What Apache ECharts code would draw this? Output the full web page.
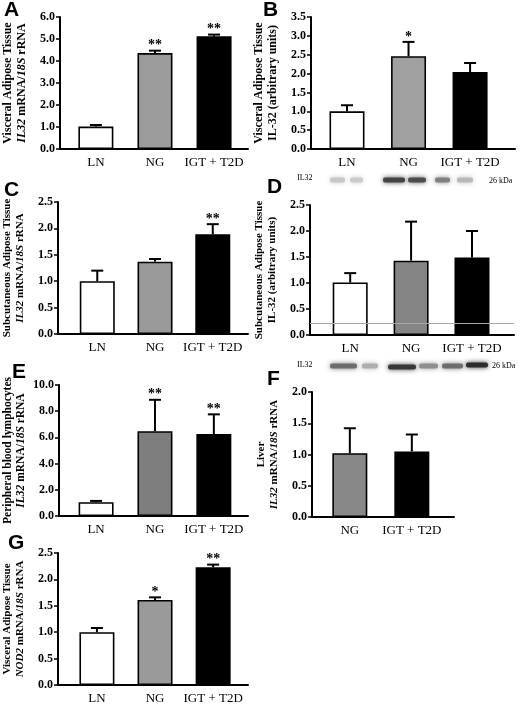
<!DOCTYPE html>
<html>
<head>
<meta charset="utf-8">
<script src="https://cdn.jsdelivr.net/npm/echarts@6/dist/echarts.min.js"></script>
<style>
html, body { margin: 0; padding: 0; background: #fff; }
#main { width: 520px; height: 706px; }
</style>
</head>
<body>
<div id="main"></div>
<script>
// groups
var groups3 = ['LN', 'NG', 'IGT + T2D'];
var groups2 = ['NG', 'IGT + T2D'];

// A - visceral adipose IL32 mRNA
var aMean = [1.02, 4.36, 5.12];
var aSem = [0.07, 0.11, 0.08];
var aSig = ['', '**', '**'];
// B - visceral adipose IL-32 protein
var bMean = [1.0, 2.46, 2.04];
var bSem = [0.16, 0.38, 0.24];
var bSig = ['', '*', ''];
// C - subcutaneous adipose IL32 mRNA
var cMean = [1.0, 1.37, 1.89];
var cSem = [0.2, 0.05, 0.19];
var cSig = ['', '', '**'];
// D - subcutaneous adipose IL-32 protein
var dMean = [1.01, 1.43, 1.49];
var dSem = [0.18, 0.75, 0.51];
var dSig = ['', '', ''];
var dGuide = 0.22;   // faint grey line across panel D
// E - peripheral blood lymphocytes IL32 mRNA
var eMean = [1.05, 6.47, 6.26];
var eSem = [0.1, 2.4, 1.5];
var eSig = ['', '**', '**'];
// F - liver IL32 mRNA
var fMean = [1.02, 1.05];
var fSem = [0.4, 0.27];
var fSig = ['', ''];
// G - visceral adipose NOD2 mRNA
var gMean = [1.0, 1.61, 2.23];
var gSem = [0.08, 0.05, 0.05];
var gSig = ['', '*', '**'];

var yTicksA = 1, yTicksB = 0.5, yTicksE = 2;

var serif = '"Liberation Serif", "DejaVu Serif", serif';

var panels = [
  { cats: groups3, mean: aMean, sem: aSem, sig: aSig, ymax: 6, step: yTicksA, grid: { left: 54, top: 17, width: 194, height: 132 }, xr: [-0.607, 2.574], gray: '#9b9b9b',
    name: 'Visceral Adipose Tissue\n{i|IL32} mRNA/{i|18S} rRNA', fs: 12 },
  { cats: groups3, mean: bMean, sem: bSem, sig: bSig, ymax: 3.5, step: yTicksB, grid: { left: 311, top: 17, width: 204, height: 132 }, xr: [-0.585, 2.73], gray: '#a0a0a0',
    name: 'Visceral Adipose Tissue\nIL-32 (arbitrary units)', fs: 12 },
  { cats: groups3, mean: cMean, sem: cSem, sig: cSig, ymax: 2.5, step: yTicksB, grid: { left: 54, top: 202, width: 194, height: 132 }, xr: [-0.68, 2.61], gray: '#9a9a9a',
    name: 'Subcutaneous Adipose Tissue\n{i|IL32} mRNA/{i|18S} rRNA', fs: 11 },
  { cats: groups3, mean: dMean, sem: dSem, sig: dSig, ymax: 2.5, step: yTicksB, grid: { left: 310, top: 205, width: 204, height: 130 }, xr: [-0.66, 2.69], gray: '#858585',
    name: 'Subcutaneous Adipose Tissue\nIL-32 (arbitrary units)', fs: 11, guide: dGuide },
  { cats: groups3, mean: eMean, sem: eSem, sig: eSig, ymax: 10, step: yTicksE, grid: { left: 54, top: 385, width: 194, height: 131 }, xr: [-0.63, 2.58], gray: '#7d7d7d',
    name: 'Peripheral blood lymphocytes\n{i|IL32} mRNA/{i|18S} rRNA', fs: 11.5 },
  { cats: groups2, mean: fMean, sem: fSem, sig: fSig, ymax: 2, step: yTicksB, grid: { left: 312, top: 392, width: 142, height: 125 }, xr: [-0.61, 1.68], gray: '#888888',
    name: 'Liver\n{i|IL32} mRNA/{i|18S} rRNA', fs: 11 },
  { cats: groups3, mean: gMean, sem: gSem, sig: gSig, ymax: 2.5, step: yTicksB, grid: { left: 55, top: 553, width: 193, height: 132 }, xr: [-0.67, 2.6], gray: '#9a9a9a',
    name: 'Visceral Adipose Tissue\n{i|NOD2} mRNA/{i|18S} rRNA', fs: 11 }
];

var grids = [], xAxes = [], yAxes = [], series = [];

panels.forEach(function (p, k) {
  var colors = p.cats.length === 3 ? ['#ffffff', p.gray, '#000000'] : [p.gray, '#000000'];
  var idx = p.cats.map(function (c, i) { return i; });
  grids.push(p.grid);
  xAxes.push({
    type: 'value', gridIndex: k, min: p.xr[0], max: p.xr[1],
    splitLine: { show: false },
    axisTick: { show: false },
    axisLine: { show: true, onZero: false, lineStyle: { color: '#000', width: 2 } },
    axisLabel: {
      customValues: idx,
      formatter: function (v) { return p.cats[Math.round(v)]; },
      fontFamily: serif, fontSize: 13, color: '#000', margin: 7
    }
  });
  yAxes.push({
    type: 'value', gridIndex: k, min: 0, max: p.ymax, interval: p.step,
    splitLine: { show: false },
    axisLine: { show: true, onZero: false, lineStyle: { color: '#000', width: 2 } },
    axisTick: { show: true, length: 4, lineStyle: { color: '#000', width: 1.5 } },
    axisLabel: {
      formatter: function (v) { return v.toFixed(1); },
      fontFamily: serif, fontWeight: 'bold', fontSize: 12, color: '#000', margin: 5
    },
    name: p.name, nameLocation: 'middle', nameRotate: 90, nameGap: 31,
    nameTextStyle: {
      fontFamily: serif, fontWeight: 'bold', fontSize: p.fs, lineHeight: p.fs + 2, color: '#000',
      rich: { i: { fontFamily: serif, fontWeight: 'bold', fontStyle: 'italic', fontSize: p.fs, color: '#000' } }
    }
  });
  var bar = {
    type: 'bar', xAxisIndex: k, yAxisIndex: k, barWidth: 35,
    data: p.mean.map(function (m, i) {
      return { value: [i, m], itemStyle: { color: colors[i], borderColor: '#000', borderWidth: 1.6 } };
    }),
    silent: true
  };
  if (p.guide != null) {
    bar.markLine = {
      silent: true, symbol: 'none', label: { show: false },
      lineStyle: { color: '#a8a8a8', width: 1, type: 'solid' },
      data: [{ yAxis: p.guide }]
    };
  }
  series.push(bar);
  series.push({
    type: 'custom', xAxisIndex: k, yAxisIndex: k, silent: true, z: 5,
    data: p.mean.map(function (m, i) { return [i, m, p.sem[i]]; }),
    encode: { x: 0, y: 1 },
    renderItem: function (params, api) {
      var x = api.value(0), m = api.value(1), s = api.value(2);
      var base = api.coord([x, m]);
      var top = api.coord([x, m + s]);
      var kids = [
        { type: 'line', shape: { x1: base[0], y1: base[1], x2: top[0], y2: top[1] }, style: { stroke: '#000', lineWidth: 2 } },
        { type: 'line', shape: { x1: top[0] - 6, y1: top[1], x2: top[0] + 6, y2: top[1] }, style: { stroke: '#000', lineWidth: 2 } }
      ];
      var sig = p.sig[params.dataIndex];
      if (sig) {
        kids.push({
          type: 'text', x: top[0], y: top[1] + 2,
          style: { text: sig, fill: '#000', font: 'bold 14px ' + serif, align: 'center', verticalAlign: 'bottom' }
        });
      }
      return { type: 'group', children: kids };
    }
  });
});

// panel letters
function letter(t, x, y) {
  return { type: 'text', left: x, top: y, style: { text: t, fill: '#000', font: 'bold 21px "Liberation Sans", Arial, sans-serif' } };
}
// western blot strips (picture decoration)
function band(x, y, w, c) {
  return { type: 'rect', shape: { x: x, y: y - 2.5, width: w, height: 5, r: 2 },
           style: { fill: c, shadowBlur: 5, shadowColor: c, opacity: 0.9 } };
}
function smallText(t, x, y) {
  return { type: 'text', left: x, top: y, style: { text: t, fill: '#000', font: '8px ' + serif } };
}

var graphics = [
  letter('A', 4, 0), letter('B', 263, 0), letter('C', 4, 180), letter('D', 267, 177),
  letter('E', 12, 362), letter('F', 267, 369), letter('G', 8, 533),
  smallText('IL32', 297, 174), smallText('26 kDa', 489, 177),
  band(330, 180, 15, '#c4c4c4'), band(350, 180, 13, '#c8c8c8'),
  band(383, 180, 22, '#3a3a3a'), band(408, 180, 18, '#444'),
  band(435, 180, 15, '#7a7a7a'), band(457, 180, 16, '#b5b5b5'),
  smallText('IL32', 297, 361), smallText('26 kDa', 492, 362),
  band(330, 366, 27, '#666'), band(362, 366, 16, '#aaa'),
  band(388, 367, 28, '#2e2e2e'), band(419, 366, 19, '#8a8a8a'),
  band(442, 366, 21, '#666'), band(466, 365, 22, '#222')
];

var chart = echarts.init(document.getElementById('main'), null, { renderer: 'canvas' });
chart.setOption({
  animation: false,
  backgroundColor: '#fff',
  grid: grids,
  xAxis: xAxes,
  yAxis: yAxes,
  series: series,
  graphic: graphics
});
</script>
</body>
</html>
